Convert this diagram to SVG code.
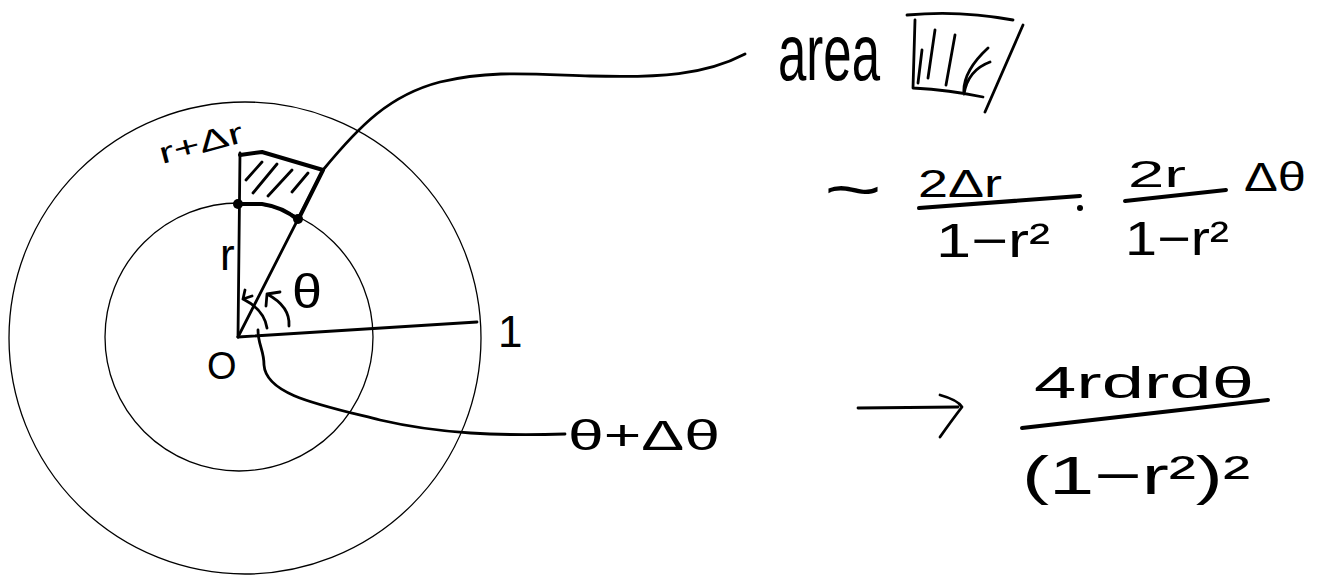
<svg xmlns="http://www.w3.org/2000/svg" width="1326" height="586" viewBox="0 0 1326 586">
<style>
.thin{fill:none;stroke:#000;stroke-width:1.3}
.med{fill:none;stroke:#000;stroke-width:2.8;stroke-linecap:round;stroke-linejoin:round}
.bold{fill:none;stroke:#000;stroke-width:4;stroke-linecap:round;stroke-linejoin:round}
.t{font-family:"Liberation Sans",Arial,sans-serif;fill:#000}
</style>
<rect width="1326" height="586" fill="#fff"/>
<g id="circles">
<circle class="thin" cx="245" cy="338" r="236"/>
<circle class="thin" cx="239" cy="337" r="134"/>
</g>
<g id="radii">
<path class="med" d="M238,337 L240,153"/>
<path class="med" d="M238,337 L323,170"/>
<path class="med" d="M238,337 L477,322"/>
</g>
<g id="region">
<path class="bold" d="M240,155 L262,152 L323,170 L298,220"/>
<path class="bold" d="M238,204 L262,204 Q283,207 298,220"/>
<circle cx="238" cy="204" r="5"/>
<circle cx="298" cy="219" r="5"/>
<path class="med" d="M262,162 L246,180 M277,164 L253,193 M292,170 L268,196 M308,173 L292,192"/>
</g>
<g id="connectors">
<path class="med" d="M323,170 C360,125 390,95 440,82 C490,70 530,74 590,76 C660,78 705,75 745,54"/>
<path class="med" d="M258,330 C258,345 264,350 264,365 C266,395 320,405 380,420 C440,434 500,436 565,434"/>
<path class="med" d="M267,328 C265,315 255,305 243,299 M243,299 L245,290 M243,299 L252,296"/>
<path class="med" d="M289,326 C290,312 282,302 267,294 M267,294 L266,306 M267,294 L280,292"/>
<path class="med" d="M858,408 L958,407 M940,395 Q958,400 962,407 Q952,420 940,437"/>
</g>
<g id="labels">
<text class="t" x="162" y="164" font-size="30" transform="rotate(-15 162 164)" textLength="86" lengthAdjust="spacingAndGlyphs">r+Δr</text>
<text class="t" x="220" y="270" font-size="44">r</text>
<text class="t" x="292" y="308" font-size="48" textLength="30" lengthAdjust="spacingAndGlyphs">θ</text>
<text class="t" x="207" y="379" font-size="38">O</text>
<text class="t" x="498" y="347" font-size="44">1</text>
<text class="t" x="568" y="450" font-size="42" textLength="152" lengthAdjust="spacingAndGlyphs">θ+Δθ</text>
<text class="t" x="778" y="80" font-size="80" textLength="102" lengthAdjust="spacingAndGlyphs">area</text>
</g>
<g id="area-icon">
<path class="med" d="M907,15 Q960,10 1013,20 M915,20 L913,88 Q950,90 983,97 M1023,25 L985,112 M922,50 L918,83 M935,30 L928,78 M955,35 L946,85 M988,48 Q962,72 964,94 Q968,70 990,62"/>
</g>
<g id="formula1">
<text class="t" x="824" y="212" font-size="64" textLength="58" lengthAdjust="spacingAndGlyphs">~</text>
<text class="t" x="918" y="197" font-size="38" textLength="84" lengthAdjust="spacingAndGlyphs">2Δr</text>
<path class="bold" d="M919,208 L1080,196"/>
<text class="t" x="936" y="257" font-size="48" textLength="114" lengthAdjust="spacingAndGlyphs">1−r²</text>
<circle cx="1080" cy="208" r="3"/>
<text class="t" x="1128" y="187" font-size="36" textLength="58" lengthAdjust="spacingAndGlyphs">2r</text>
<path class="bold" d="M1125,201 L1226,190"/>
<text class="t" x="1125" y="255" font-size="48" textLength="104" lengthAdjust="spacingAndGlyphs">1−r²</text>
<text class="t" x="1244" y="191" font-size="40" textLength="62" lengthAdjust="spacingAndGlyphs">Δθ</text>
</g>
<g id="formula2">
<text class="t" x="1034" y="398" font-size="44" textLength="220" lengthAdjust="spacingAndGlyphs">4rdrdθ</text>
<path class="bold" d="M1022,428 L1268,400"/>
<text class="t" x="1022" y="494" font-size="54" textLength="228" lengthAdjust="spacingAndGlyphs">(1−r²)²</text>
</g>
</svg>
